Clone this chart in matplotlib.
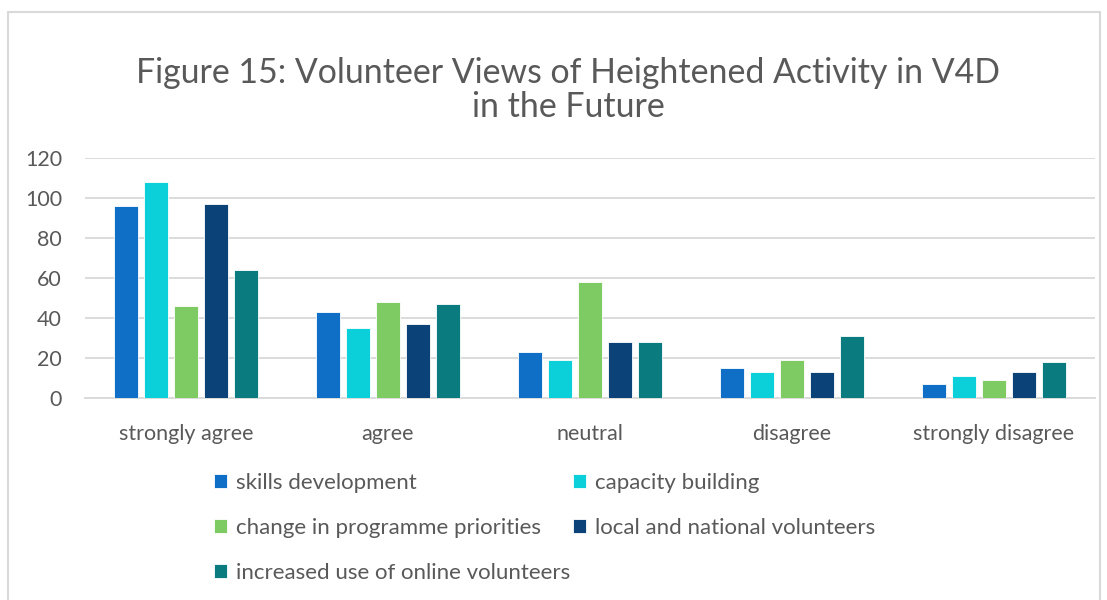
import numpy as np
import matplotlib.pyplot as plt
from matplotlib.patches import Rectangle

# data
categories = ['strongly agree', 'agree', 'neutral', 'disagree', 'strongly disagree']
series_names = ['skills development', 'capacity building', 'change in programme priorities',
                'local and national volunteers', 'increased use of online volunteers']
skills = [96, 43, 23, 15, 7]
capacity = [108, 35, 19, 13, 11]
programme = [46, 48, 58, 19, 9]
local = [97, 37, 28, 13, 13]
online = [64, 47, 28, 31, 18]
yticks = [0, 20, 40, 60, 80, 100, 120]

colors = ['#0F6FC6', '#0BD0D9', '#7DCB62', '#0B4379', '#0A7B7F']
txt = '#595959'
plt.rcParams['font.family'] = ['Lato', 'DejaVu Sans']

fig = plt.figure(figsize=(11.07, 6.0), dpi=100)
fig.patches.append(Rectangle((8 / 1107, -0.01), 1092 / 1107, 1 - 12 / 600 + 0.01,
                             transform=fig.transFigure, fill=False,
                             edgecolor='#D9D9D9', lw=1.5))

ax = fig.add_axes([85 / 1107, 1 - 398 / 600, 1010 / 1107, 240.5 / 600])
x = np.arange(len(categories))
step = 0.148
width = 0.118
all_vals = [skills, capacity, programme, local, online]
bars = []
for i, vals in enumerate(all_vals):
    b = ax.bar(x + (i - 2) * step, vals, width, color=colors[i],
               edgecolor='white', linewidth=0.6, label=series_names[i], zorder=3)
    bars.append(b)

ax.set_xlim(-0.5, 4.5)
ax.set_ylim(0, 120)
ax.set_yticks(yticks)
ax.set_xticks(x)
ax.set_xticklabels(categories)
ax.tick_params(length=0, labelsize=15.5, colors=txt)
ax.tick_params(axis='x', pad=19)
ax.tick_params(axis='y', pad=16.5)
ax.grid(axis='y', color='#D9D9D9', lw=1.3, zorder=0)
for s in ['top', 'right', 'left']:
    ax.spines[s].set_visible(False)
ax.spines['bottom'].set_color('#D9D9D9')
ax.spines['bottom'].set_linewidth(1.3)

fig.text(0.513, 1 - 90 / 600, 'Figure 15: Volunteer Views of Heightened Activity in V4D\nin the Future',
         ha='center', va='center', fontsize=24.4, color=txt, linespacing=1.05)

# legend is filled column by column, so reorder to get the row layout
order = [0, 2, 4, 1, 3]
leg = fig.legend([bars[k] for k in order], [series_names[k] for k in order],
                 ncol=2, loc='upper left', bbox_to_anchor=(194 / 1107, 1 - 453 / 600),
                 frameon=False, fontsize=16, labelcolor=txt, handlelength=0.6,
                 handleheight=0.6, handletextpad=0.4, labelspacing=1.12,
                 columnspacing=0.1)

fig.savefig('out.png', dpi=100)
